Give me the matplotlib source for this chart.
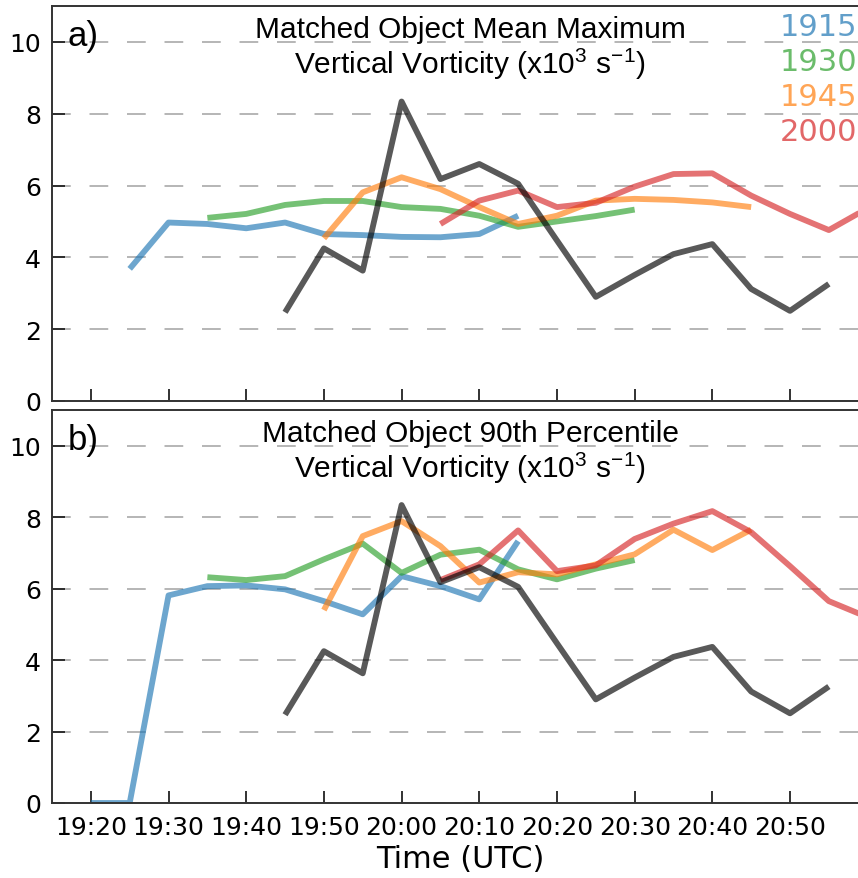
import numpy as np
import matplotlib
matplotlib.use("Agg")
import matplotlib.pyplot as plt

plt.rcParams["font.family"] = "DejaVu Sans"
plt.rcParams["mathtext.fontset"] = "custom"
plt.rcParams["mathtext.rm"] = "Liberation Sans"
plt.rcParams["mathtext.it"] = "Liberation Sans"
plt.rcParams["lines.scale_dashes"] = False

n = np.nan

# minutes after 19:00, 5-minute steps from 19:20 to 21:00
times = [20, 25, 30, 35, 40, 45, 50, 55, 60, 65, 70, 75, 80, 85, 90, 95, 100, 105, 110, 115, 120]
tick_minutes = [20, 30, 40, 50, 60, 70, 80, 90, 100, 110]
tick_labels = ["19:20", "19:30", "19:40", "19:50", "20:00", "20:10", "20:20", "20:30", "20:40", "20:50"]

run_names = ["1915", "1930", "1945", "2000"]
run_colors = ["tab:blue", "tab:green", "tab:orange", "tab:red"]

obs = [n, n, n, n, n, 2.47, 4.25, 3.63, 8.34, 6.18, 6.60, 6.05, 4.47, 2.90, 3.51, 4.09, 4.37, 3.12, 2.51, 3.26, n]

mean_1915 = [n, 3.68, 4.97, 4.93, 4.81, 4.97, 4.65, 4.62, 4.57, 4.56, 4.65, 5.16, n, n, n, n, n, n, n, n, n]
mean_1930 = [n, n, n, 5.10, 5.21, 5.46, 5.57, 5.57, 5.40, 5.35, 5.16, 4.85, 5.00, 5.15, 5.33, n, n, n, n, n, n]
mean_1945 = [n, n, n, n, n, n, 4.53, 5.81, 6.23, 5.90, 5.40, 4.93, 5.16, 5.58, 5.63, 5.60, 5.53, 5.40, n, n, n]
mean_2000 = [n, n, n, n, n, n, n, n, n, 4.93, 5.58, 5.86, 5.40, 5.52, 5.97, 6.32, 6.34, 5.72, 5.21, 4.76, 5.37]

p90_1915 = [0.0, 0.0, 5.81, 6.07, 6.09, 5.98, 5.65, 5.28, 6.35, 6.07, 5.70, 7.33, n, n, n, n, n, n, n, n, n]
p90_1930 = [n, n, n, 6.32, 6.24, 6.35, 6.82, 7.26, 6.44, 6.95, 7.09, 6.54, 6.26, 6.56, 6.80, n, n, n, n, n, n]
p90_1945 = [n, n, n, n, n, n, 5.40, 7.47, 7.89, 7.19, 6.17, 6.46, 6.40, 6.68, 6.96, 7.65, 7.08, 7.65, n, n, n]
p90_2000 = [n, n, n, n, n, n, n, n, n, 6.24, 6.68, 7.63, 6.49, 6.65, 7.39, 7.82, 8.17, 7.58, 6.63, 5.65, 5.20]

panels = [
    ("a)", "Matched Object Mean Maximum", [mean_1915, mean_1930, mean_1945, mean_2000]),
    ("b)", "Matched Object 90th Percentile", [p90_1915, p90_1930, p90_1945, p90_2000]),
]

W, H = 858, 879
fig = plt.figure(figsize=(W / 100, H / 100), dpi=100)
ax_left = 52 / W
ax_width = 815.7 / W
boxes = [(402, 395), (804, 393)]

title_font = dict(family="Liberation Sans", fontsize=21.5)

for i, (letter, title, series) in enumerate(panels):
    bottom_px, height_px = boxes[i]
    ax = fig.add_axes([ax_left, 1 - bottom_px / H, ax_width, height_px / H])

    for vals, color in zip(series, run_colors):
        ax.plot(times, vals, color=color, lw=4.2, alpha=0.65, solid_capstyle="butt")
    ax.plot(times, obs, color="black", lw=4.2, alpha=0.65, solid_capstyle="butt")

    ax.set_xlim(15, 120)
    ax.set_ylim(0, 11)
    ax.set_yticks([0, 2, 4, 6, 8, 10])
    ax.set_xticks(tick_minutes)
    if i == 1:
        ax.set_xticklabels(tick_labels)
        ax.set_xlabel("Time (UTC)", fontsize=22, labelpad=3)
    else:
        ax.set_xticklabels([])
    ax.tick_params(axis="both", direction="in", length=9, width=1.3, labelsize=18, pad=8,
                   colors="#222222", labelcolor="black")
    ax.tick_params(axis="x", pad=9)
    ax.tick_params(axis="x", top=False, right=False)
    for sp in ax.spines.values():
        sp.set_linewidth(1.4)
        sp.set_color("#333333")
    ax.grid(axis="y", color="#b0b0b0", lw=1.3, linestyle=(0, (13.5, 13.5)))
    ax.set_axisbelow(True)

    ax.text(0.0196, 0.90, letter, transform=ax.transAxes, ha="left", va="baseline",
            family="Liberation Sans", fontsize=25)
    ax.text(0.5125, 0.978, title + "\nVertical Vorticity (x10$^{3}$ s$^{-1}$)",
            transform=ax.transAxes, ha="center", va="top", linespacing=1.1, **title_font)

    if i == 0:
        for k, (name, color) in enumerate(zip(run_names, run_colors)):
            ax.text(0.892, 0.947 - k * 0.088, name, transform=ax.transAxes, color=color,
                    alpha=0.7, fontsize=22, ha="left", va="center")

fig.savefig("out.png", dpi=100)
